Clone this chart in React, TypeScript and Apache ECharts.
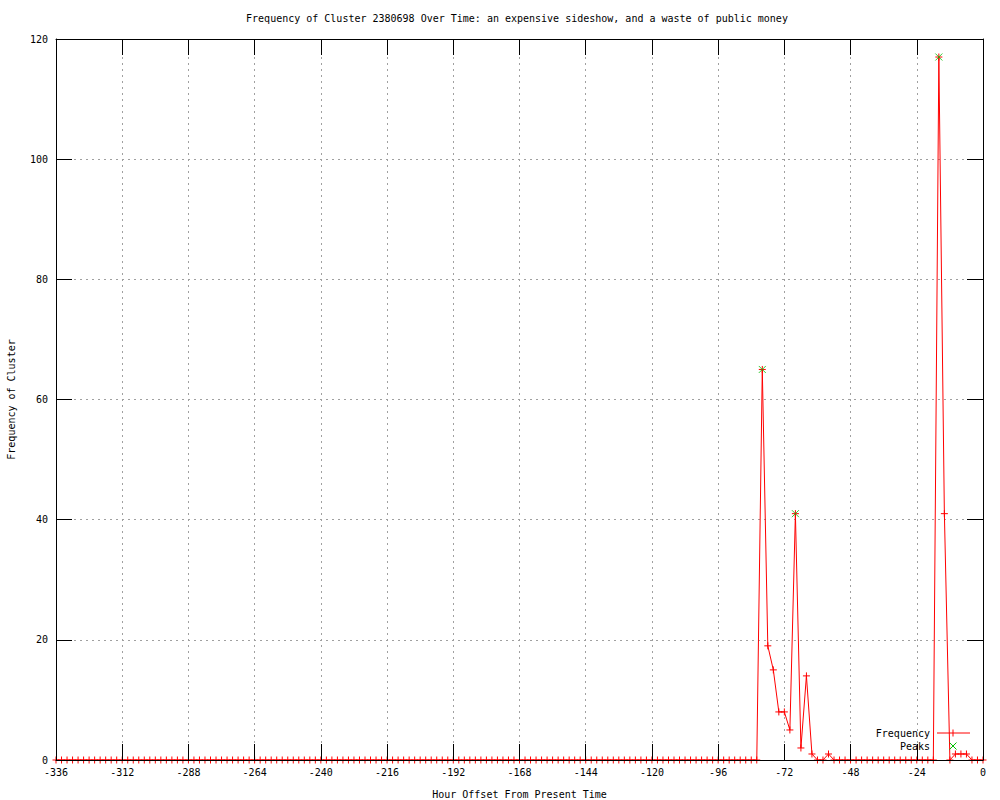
import { useEffect, useRef } from "react";
import * as echarts from "echarts";

// Hour offsets (every 2 hours) from -336 to 0
const hours = [
  -336, -334, -332, -330, -328, -326, -324, -322, -320, -318, -316, -314,
  -312, -310, -308, -306, -304, -302, -300, -298, -296, -294, -292, -290,
  -288, -286, -284, -282, -280, -278, -276, -274, -272, -270, -268, -266,
  -264, -262, -260, -258, -256, -254, -252, -250, -248, -246, -244, -242,
  -240, -238, -236, -234, -232, -230, -228, -226, -224, -222, -220, -218,
  -216, -214, -212, -210, -208, -206, -204, -202, -200, -198, -196, -194,
  -192, -190, -188, -186, -184, -182, -180, -178, -176, -174, -172, -170,
  -168, -166, -164, -162, -160, -158, -156, -154, -152, -150, -148, -146,
  -144, -142, -140, -138, -136, -134, -132, -130, -128, -126, -124, -122,
  -120, -118, -116, -114, -112, -110, -108, -106, -104, -102, -100, -98,
  -96, -94, -92, -90, -88, -86, -84, -82, -80, -78, -76, -74,
  -72, -70, -68, -66, -64, -62, -60, -58, -56, -54, -52, -50,
  -48, -46, -44, -42, -40, -38, -36, -34, -32, -30, -28, -26,
  -24, -22, -20, -18, -16, -14, -12, -10, -8, -6, -4, -2,
  0,
];

const frequency = [
  0, 0, 0, 0, 0, 0, 0, 0, 0, 0, 0, 0,
  0, 0, 0, 0, 0, 0, 0, 0, 0, 0, 0, 0,
  0, 0, 0, 0, 0, 0, 0, 0, 0, 0, 0, 0,
  0, 0, 0, 0, 0, 0, 0, 0, 0, 0, 0, 0,
  0, 0, 0, 0, 0, 0, 0, 0, 0, 0, 0, 0,
  0, 0, 0, 0, 0, 0, 0, 0, 0, 0, 0, 0,
  0, 0, 0, 0, 0, 0, 0, 0, 0, 0, 0, 0,
  0, 0, 0, 0, 0, 0, 0, 0, 0, 0, 0, 0,
  0, 0, 0, 0, 0, 0, 0, 0, 0, 0, 0, 0,
  0, 0, 0, 0, 0, 0, 0, 0, 0, 0, 0, 0,
  0, 0, 0, 0, 0, 0, 0, 0, 65, 19, 15, 8,
  8, 5, 41, 2, 14, 1, 0, 0, 1, 0, 0, 0,
  0, 0, 0, 0, 0, 0, 0, 0, 0, 0, 0, 0,
  0, 0, 0, 0, 117, 41, 0, 1, 1, 1, 0, 0,
  0,
];

const peakHours = [-80, -68, -16];
const peakValues = [65, 41, 117];

const TITLE =
  "Frequency of Cluster 2380698 Over Time: an expensive sideshow, and a waste of public money";
const X_NAME = "Hour Offset From Present Time";
const Y_NAME = "Frequency of Cluster";
const LEGEND_NAMES = ["Frequency", "Peaks"];

export default function App() {
  const ref = useRef<HTMLDivElement>(null);
  useEffect(() => {
    if (!ref.current) return;
    const chart = echarts.init(ref.current, undefined, { renderer: "svg" });
    const fontFamily = "DejaVu Sans Mono";
    const fontSize = 10;
    const font = `${fontSize}px "${fontFamily}"`;
    const plus = "path://M5,0L5,10M0,5L10,5";
    const cross = "path://M0,0L10,10M10,0L0,10";
    const red = "#ff0000";
    const green = "#00c000";
    const gridColor = "#a0a0a0";

    const xBase = { type: "value", min: -336, max: 0, interval: 24 };
    const yBase = { type: "value", min: 0, max: 120, interval: 20 };
    const frameLine = { show: true, onZero: false, lineStyle: { color: "#000", width: 1 } };
    const frameTick = { show: true, inside: true, length: 16, lineStyle: { color: "#000", width: 1 } };

    chart.setOption({
      animation: false,
      backgroundColor: "#ffffff",
      textStyle: { fontFamily, fontSize, color: "#000" },
      grid: { left: 56, right: 17, top: 39, bottom: 40, outerBoundsMode: "none", containLabel: false },
      xAxis: [
        {
          ...xBase,
          position: "bottom",
          z: 5,
          axisLine: frameLine,
          axisTick: frameTick,
          axisLabel: { color: "#000", fontFamily, fontSize, margin: 7 },
          splitLine: { show: false },
          name: X_NAME,
          nameLocation: "middle",
          nameGap: 29,
          nameTextStyle: { color: "#000", fontFamily, fontSize },
        },
        {
          ...xBase,
          position: "top",
          z: 5,
          axisLine: frameLine,
          axisTick: frameTick,
          axisLabel: { show: false },
          splitLine: { show: false },
        },
        {
          ...xBase,
          position: "bottom",
          z: 0,
          axisLine: { show: false },
          axisTick: { show: false },
          axisLabel: { show: false },
          splitLine: { show: true, lineStyle: { color: gridColor, width: 1, type: [2, 4] } },
        },
      ],
      yAxis: [
        {
          ...yBase,
          position: "left",
          z: 5,
          axisLine: frameLine,
          axisTick: frameTick,
          axisLabel: { color: "#000", fontFamily, fontSize, margin: 8 },
          splitLine: { show: false },
          name: Y_NAME,
          nameLocation: "middle",
          nameGap: 40,
          nameRotate: 90,
          nameTextStyle: { color: "#000", fontFamily, fontSize },
        },
        {
          ...yBase,
          position: "right",
          z: 5,
          axisLine: frameLine,
          axisTick: frameTick,
          axisLabel: { show: false },
          splitLine: { show: false },
        },
        {
          ...yBase,
          position: "left",
          z: 0,
          axisLine: { show: false },
          axisTick: { show: false },
          axisLabel: { show: false },
          splitLine: { show: true, lineStyle: { color: gridColor, width: 1, type: [2, 4] } },
        },
      ],
      series: [
        {
          name: LEGEND_NAMES[0],
          type: "line",
          xAxisIndex: 0,
          yAxisIndex: 0,
          data: hours.map((h, i) => [h, frequency[i]]),
          symbol: plus,
          symbolSize: 7,
          showSymbol: true,
          showAllSymbol: true,
          lineStyle: { color: red, width: 1 },
          itemStyle: { color: red, borderColor: red, borderWidth: 1 },
          z: 2,
        },
        {
          name: LEGEND_NAMES[1],
          type: "scatter",
          xAxisIndex: 0,
          yAxisIndex: 0,
          data: peakHours.map((h, i) => [h, peakValues[i]]),
          symbol: cross,
          symbolSize: 7,
          itemStyle: { color: green, borderColor: green, borderWidth: 1 },
          z: 3,
        },
      ],
      graphic: [
        {
          type: "text",
          z: 10,
          style: { text: TITLE, x: 517, y: 18, align: "center", verticalAlign: "middle", font, fill: "#000" },
        },
        {
          type: "text",
          z: 10,
          style: { text: LEGEND_NAMES[0], x: 930, y: 733, align: "right", verticalAlign: "middle", font, fill: "#000" },
        },
        {
          type: "line",
          z: 10,
          shape: { x1: 937, y1: 733, x2: 970, y2: 733 },
          style: { stroke: red, lineWidth: 1 },
        },
        {
          type: "line",
          z: 10,
          shape: { x1: 953, y1: 729.5, x2: 953, y2: 736.5 },
          style: { stroke: red, lineWidth: 1 },
        },
        {
          type: "text",
          z: 10,
          style: { text: LEGEND_NAMES[1], x: 930, y: 746, align: "right", verticalAlign: "middle", font, fill: "#000" },
        },
        {
          type: "line",
          z: 10,
          shape: { x1: 949.5, y1: 742.5, x2: 956.5, y2: 749.5 },
          style: { stroke: green, lineWidth: 1 },
        },
        {
          type: "line",
          z: 10,
          shape: { x1: 956.5, y1: 742.5, x2: 949.5, y2: 749.5 },
          style: { stroke: green, lineWidth: 1 },
        },
      ],
    });
    return () => chart.dispose();
  }, []);
  return (
    <div
      ref={ref}
      style={{ position: "fixed", left: 0, top: 0, width: 1000, height: 800, background: "#fff" }}
    />
  );
}
